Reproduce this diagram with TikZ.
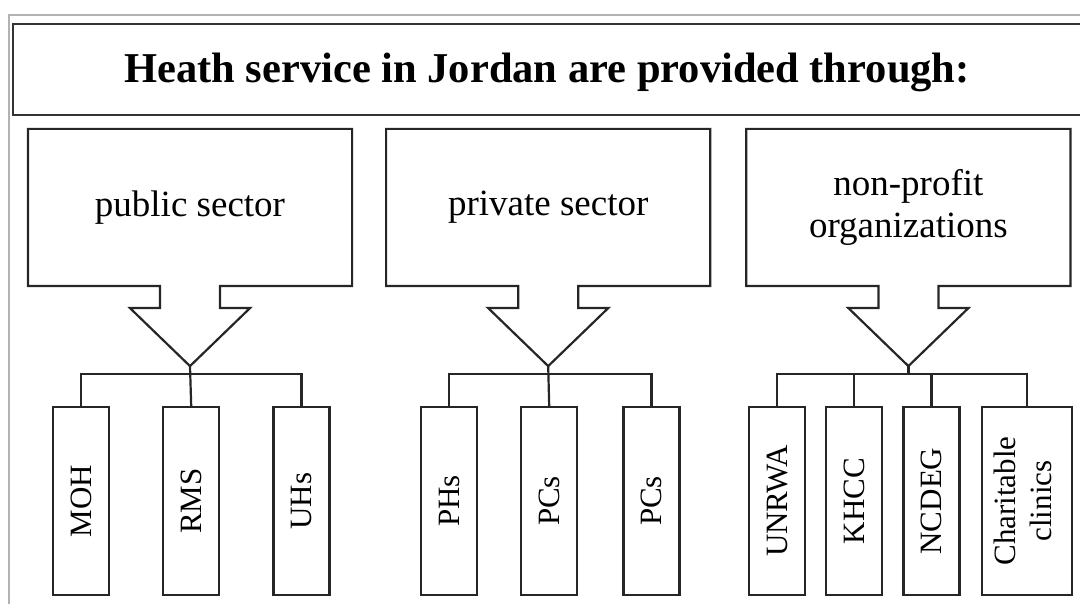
\documentclass[tikz,border=0pt]{standalone}
\usepackage{fontspec}
\setmainfont{Liberation Serif}
\usetikzlibrary{positioning}

\begin{document}
\begin{tikzpicture}[x=1pt, y=-1pt,
    line width=2.2pt, draw=black!85, line join=miter,
    sector/.style={minimum width=322pt, minimum height=155pt, inner sep=0pt,
                   align=center, font=\fontsize{37}{42}\selectfont},
    unit/.style={draw, minimum width=56pt, minimum height=188pt, inner sep=0pt,
                 font=\fontsize{31}{36}\selectfont}]
    \useasboundingbox (0,0) rectangle (1080,604);
    % outer frame and title
    \draw[gray!60, line width=1.3pt] (9,650) |- (1100,15);
    \draw[black!80, line width=2pt] (1100,24) -| (13,115) -- (1100,115);
    \node[anchor=base, font=\bfseries\fontsize{42.5}{50}\selectfont] (title) at (547,83)
        {Heath service in Jordan are provided through:};

    % the three sectors
    \node[sector] (pub) at (190,207.5) {public sector};
    \node[sector, right=34pt of pub] (priv) {private sector};
    \node[sector, right=36pt of priv] (nonp) {non-profit\\organizations};
    \foreach \s in {pub,priv,nonp} {
        \draw (\s.south west) -- (\s.north west) -- (\s.north east) -- (\s.south east)
            -- ([xshift=30pt]\s.south) -- ++(0,22) -- ++(30,0)
            -- ([yshift=-80pt]\s.south) coordinate (\s-tip)
            -- ([xshift=-60pt,yshift=-22pt]\s.south) -- ++(30,0)
            -- ([xshift=-30pt]\s.south) -- cycle;
        \coordinate (\s-bar) at ([yshift=-8pt]\s-tip);
    }

    % public
    \node[unit] (moh) at (81,501) {\rotatebox{90}{MOH}};
    \node[unit, right=52pt of moh] (rms) {\rotatebox{90}{RMS}};
    \node[unit, right=52pt of rms] (uhs) {\rotatebox{90}{UHs}};
    % private
    \node[unit] (phs) at (449,501) {\rotatebox{90}{PHs}};
    \node[unit, right=42pt of phs] (pcsa) {\rotatebox{90}{PCs}};
    \node[unit, right=44pt of pcsa] (pcsb) {\rotatebox{90}{PCs}};
    % non-profit
    \node[unit] (unrwa) at (777,501) {\rotatebox{90}{UNRWA}};
    \node[unit, right=19pt of unrwa] (khcc) {\rotatebox{90}{KHCC}};
    \node[unit, right=19pt of khcc] (ncdeg) {\rotatebox{90}{NCDEG}};
    \node[unit, minimum width=90pt, right=20pt of ncdeg] (charity)
        {\rotatebox{90}{\begin{tabular}{@{}c@{}}Charitable\\clinics\end{tabular}}};

    % connectors
    \draw (pub-tip) -- (rms.north);
    \draw (moh.north) |- (pub-bar) -| (uhs.north);
    \draw (priv-tip) -- (pcsa.north);
    \draw (phs.north) |- (priv-bar) -| (pcsb.north);
    \draw (nonp-tip) -- (nonp-bar);
    \draw (unrwa.north) |- (nonp-bar) -| (charity.north);
    \draw (khcc.north) -- (khcc.north |- nonp-bar);
    \draw (ncdeg.north) -- (ncdeg.north |- nonp-bar);
\end{tikzpicture}
\end{document}
